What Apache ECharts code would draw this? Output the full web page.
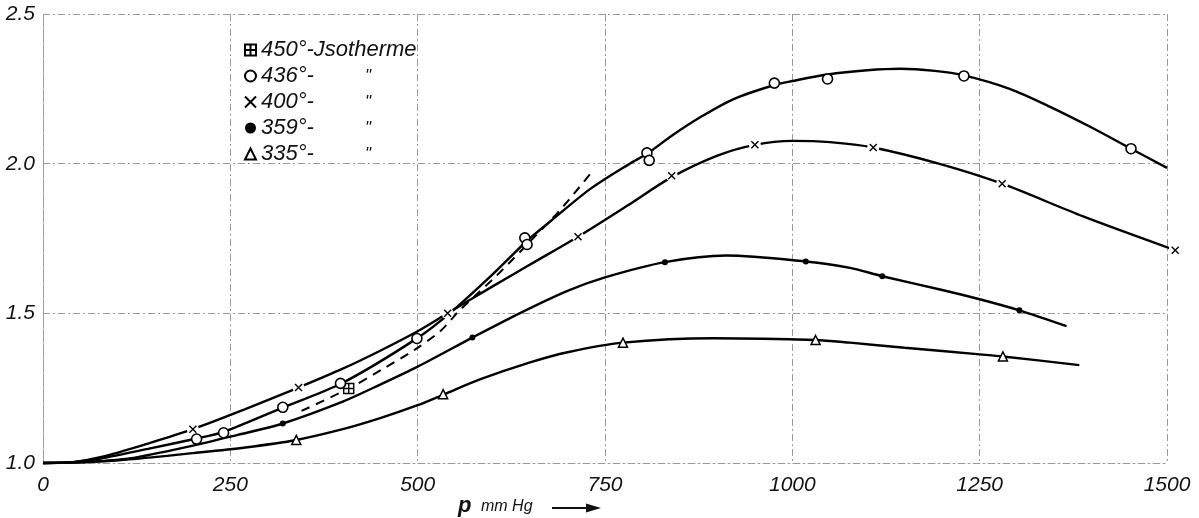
<!DOCTYPE html>
<html lang="de">
  <head>
    <meta charset="UTF-8" />
    <title>Isothermen</title>
    <script src="https://cdn.jsdelivr.net/npm/echarts@6/dist/echarts.min.js"></script>
    <style>
      html, body { margin: 0; padding: 0; background: #fff; }
      #chart { width: 1199px; height: 518px; }
    </style>
  </head>
  <body>
    <div id="chart"></div>
    <script>
      // axis ticks
      const xTicks = [0, 250, 500, 750, 1000, 1250, 1500];
      const yTicks = [1.0, 1.5, 2.0, 2.5];

      // legend names
      const names = ["450°-Jsotherme", "436°-", "400°-", "359°-", "335°-"];

      // measured points (p in mm Hg, ratio)
      const pts450 = [[408, 1.249]];
      const pts436 = [
        [205, 1.08], [241, 1.101], [320, 1.186], [397, 1.266], [499, 1.416],
        [643, 1.752], [646, 1.73], [806, 2.036], [809, 2.011], [976, 2.269],
        [1047, 2.283], [1229, 2.293], [1452, 2.05],
      ];
      const pts400 = [
        [200, 1.113], [341, 1.252], [540, 1.5], [714, 1.756], [839, 1.96],
        [950, 2.063], [1108, 2.054], [1280, 1.933], [1511, 1.711],
      ];
      const pts359 = [
        [320, 1.132], [573, 1.419], [830, 1.671], [1018, 1.673], [1120, 1.624], [1303, 1.51],
      ];
      const pts335 = [
        [338, 1.077], [534, 1.23], [774, 1.402], [1031, 1.411], [1281, 1.356],
      ];

      // drawn curves
      const curve450 = [
        [345, 1.174], [408, 1.249], [454, 1.315], [494, 1.375], [530, 1.44],
        [554, 1.505], [605, 1.625], [650, 1.74], [690, 1.845], [732, 1.971],
      ];
      const curve436 = [
        [0, 1.0], [40, 1.003], [77, 1.015], [140, 1.047], [205, 1.082], [241, 1.104],
        [320, 1.185], [400, 1.268], [500, 1.418], [545, 1.505], [600, 1.63],
        [645, 1.74], [676, 1.805], [730, 1.915], [783, 2.0], [806, 2.033],
        [840, 2.095], [877, 2.155], [921, 2.215], [975, 2.262], [1000, 2.276],
        [1047, 2.298], [1100, 2.312], [1144, 2.317], [1190, 2.31], [1229, 2.295],
        [1290, 2.25], [1344, 2.19], [1400, 2.12], [1452, 2.05], [1500, 1.986],
      ];
      const curve400 = [
        [0, 1.0], [40, 1.003], [78, 1.02], [140, 1.065], [200, 1.113], [270, 1.18],
        [341, 1.252], [400, 1.315], [450, 1.375], [500, 1.44], [540, 1.5],
        [600, 1.59], [650, 1.663], [714, 1.756], [780, 1.86], [839, 1.955],
        [900, 2.027], [950, 2.063], [1000, 2.076], [1050, 2.072], [1108, 2.054],
        [1200, 1.997], [1280, 1.933], [1388, 1.824], [1511, 1.711],
      ];
      const curve359 = [
        [0, 1.0], [60, 1.004], [115, 1.015], [200, 1.058], [260, 1.094], [320, 1.132],
        [400, 1.205], [450, 1.262], [500, 1.322], [573, 1.419], [636, 1.5],
        [700, 1.575], [750, 1.62], [830, 1.671], [912, 1.693], [1018, 1.673],
        [1077, 1.652], [1120, 1.624], [1200, 1.578], [1250, 1.547], [1303, 1.51],
        [1366, 1.457],
      ];
      const curve335 = [
        [0, 1.0], [60, 1.003], [115, 1.012], [200, 1.033], [270, 1.052], [338, 1.077],
        [400, 1.113], [450, 1.15], [500, 1.193], [534, 1.228], [583, 1.279],
        [650, 1.336], [700, 1.37], [774, 1.402], [895, 1.417], [1031, 1.411],
        [1077, 1.402], [1150, 1.385], [1250, 1.363], [1281, 1.356], [1383, 1.327],
      ];

      const font = '"Liberation Sans", "DejaVu Sans", sans-serif';
      const gridStyle = { color: "#9a9a9a", width: 1, type: [7, 3, 2, 3] };

      const crossPath = "path://M0,0L10,10M10,0L0,10";
      const boxPath = "path://M0,0H10V10H0ZM5,0V10M0,5H10";

      function curve(name, data, dashed) {
        return {
          name: name,
          type: "line",
          data: data,
          smooth: 0.3,
          showSymbol: false,
          silent: true,
          clip: false,
          z: 2,
          lineStyle: {
            color: "#000",
            width: dashed ? 2 : 2.4,
            type: dashed ? [9, 7] : "solid",
          },
        };
      }

      function points(name, data, symbol, size, fill, border) {
        return {
          name: name,
          type: "scatter",
          data: data,
          symbol: symbol,
          symbolSize: size,
          clip: false,
          z: 5,
          itemStyle: {
            color: fill,
            borderColor: "#000",
            borderWidth: border,
            opacity: 1,
          },
        };
      }

      const chart = echarts.init(document.getElementById("chart"));
      chart.setOption({
        animation: false,
        backgroundColor: "#fff",
        grid: { left: 43, right: 32, top: 14, bottom: 55 },
        xAxis: {
          type: "value",
          min: xTicks[0],
          max: xTicks[xTicks.length - 1],
          interval: 250,
          axisLine: { show: true, lineStyle: gridStyle },
          axisTick: { show: false },
          splitLine: { show: true, lineStyle: gridStyle },
          axisLabel: {
            margin: 12,
            color: "#111",
            fontFamily: font,
            fontStyle: "italic",
            fontSize: 21,
            formatter: (v) => String(v),
          },
        },
        yAxis: {
          type: "value",
          min: yTicks[0],
          max: yTicks[yTicks.length - 1],
          interval: 0.5,
          axisLine: { show: true, lineStyle: gridStyle },
          axisTick: { show: false },
          splitLine: { show: true, lineStyle: gridStyle },
          axisLabel: {
            margin: 8,
            color: "#111",
            fontFamily: font,
            fontStyle: "italic",
            fontSize: 21,
            formatter: (v) => v.toFixed(1),
          },
        },
        legend: {
          data: names,
          orient: "vertical",
          left: 239,
          top: 34,
          itemWidth: 11,
          itemHeight: 11,
          itemGap: 4,
          selectedMode: false,
          textStyle: {
            color: "#111",
            fontFamily: font,
            fontStyle: "italic",
            fontSize: 22,
            lineHeight: 22,
            rich: {
              a: { width: 104, fontFamily: font, fontStyle: "italic", fontSize: 22, lineHeight: 22 },
              b: { fontFamily: font, fontStyle: "italic", fontSize: 17, lineHeight: 22 },
            },
          },
          formatter: (n) => (n === names[0] ? n : "{a|" + n + "}{b|\"}"),
        },
        graphic: [
          {
            type: "text",
            left: 458,
            top: 495,
            style: { text: "p", font: "italic bold 22px " + font, fill: "#111" },
          },
          {
            type: "text",
            left: 481,
            top: 499,
            style: { text: "mm Hg", font: "italic 16px " + font, fill: "#111" },
          },
          {
            type: "line",
            shape: { x1: 552, y1: 508, x2: 590, y2: 508 },
            style: { stroke: "#111", lineWidth: 2 },
          },
          {
            type: "polygon",
            shape: { points: [[586, 503.5], [601, 508], [586, 512.5]] },
            style: { fill: "#111" },
          },
        ],
        series: [
          curve("c450", curve450, true),
          curve("c436", curve436, false),
          curve("c400", curve400, false),
          curve("c359", curve359, false),
          curve("c335", curve335, false),
          // white gaps in the 400° line behind the x marks
          {
            name: "gap400",
            type: "scatter",
            data: pts400,
            symbol: "circle",
            symbolSize: 12,
            silent: true,
            clip: false,
            z: 4,
            itemStyle: { color: "#fff", opacity: 1 },
          },
          points(names[0], pts450, boxPath, 10, "#fff", 1.4),
          points(names[1], pts436, "circle", 10, "#fff", 1.6),
          points(names[2], pts400, crossPath, 7, "#fff", 1.4),
          points(names[3], pts359, "circle", 6, "#000", 0),
          points(names[4], pts335, "triangle", 9, "#fff", 1.5),
        ],
      });
    </script>
  </body>
</html>
